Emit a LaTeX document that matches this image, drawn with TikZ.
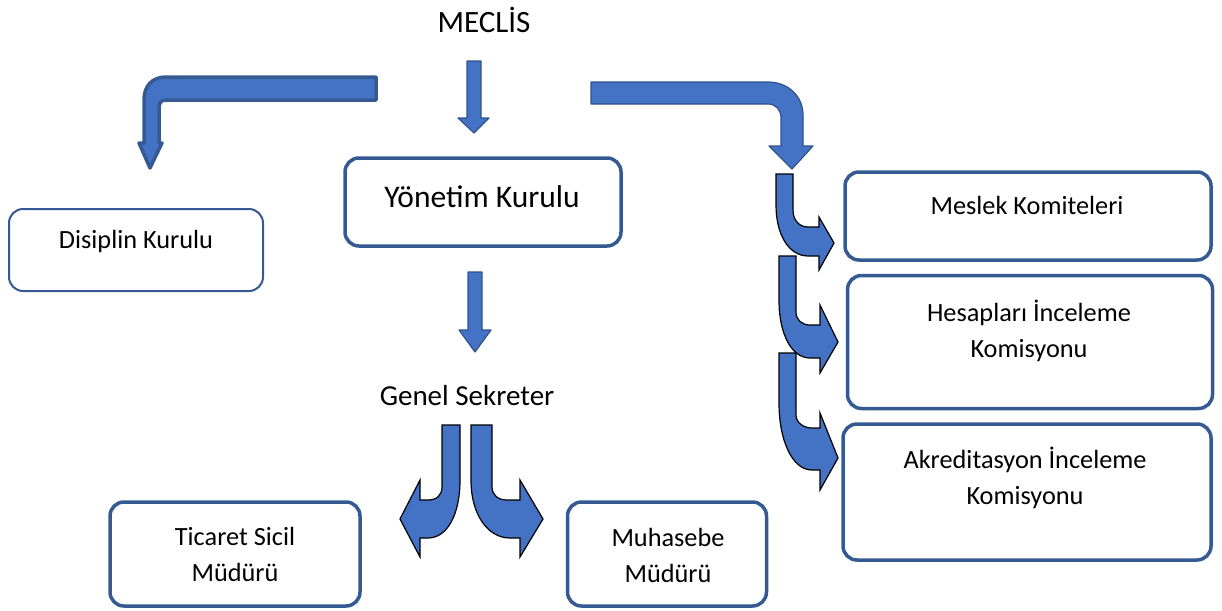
\documentclass[tikz,border=0pt]{standalone}
\usepackage{fontspec}
\setmainfont{Carlito}
\usepackage{tikz}
\definecolor{kutuc}{HTML}{355A93}
\definecolor{okdolgu}{HTML}{4472C4}
\definecolor{okkenar}{HTML}{2F528F}
\begin{document}
\begin{tikzpicture}[x=1pt,y=-1pt]
\tikzstyle{kutu}=[draw=kutuc, line width=3.5pt, rounded corners=14pt, fill=white, inner sep=0pt]
\tikzstyle{yazi}=[align=center, inner sep=0pt, font=\fontsize{26.3}{36}\selectfont]
\tikzstyle{blokok}=[fill=okdolgu, draw=okkenar, line width=1.2pt, line join=round]
\tikzstyle{egriok}=[fill=okdolgu, draw=black, line width=1.2pt, line join=miter]
\useasboundingbox (0,0) rectangle (1222,610);

% kutular
\node[kutu, minimum width=276pt, minimum height=88pt] (yonetim) at (483,202) {};
\node[kutu, line width=2pt, minimum width=254pt, minimum height=82pt] (disiplin) at (136,250) {};
\node[kutu, minimum width=366pt, minimum height=88pt] (meslek) at (1028,216) {};
\node[kutu, minimum width=365pt, minimum height=133pt] (hesap) at (1030,342) {};
\node[kutu, minimum width=368pt, minimum height=136pt] (akredit) at (1027,492) {};
\node[kutu, minimum width=250pt, minimum height=104pt] (ticaret) at (235,554) {};
\node[kutu, minimum width=199pt, minimum height=104pt] (muhasebe) at (667,554) {};

% yazilar
\node[yazi, font=\fontsize{31}{36}\selectfont] (meclis) at (484,20) {MECLİS};
\node[yazi, font=\fontsize{31.5}{36}\selectfont] (yonetimy) at (482,197) {Yönetim Kurulu};
\node[yazi] (disipliny) at (136,241) {Disiplin Kurulu};
\node[yazi, font=\fontsize{29}{34}\selectfont] (genelsek) at (467,396) {Genel Sekreter};
\node[yazi] (mesleky) at (1027,205) {Meslek Komiteleri};
\node[yazi] (hesapy) at (1029,331) {Hesapları İnceleme\\Komisyonu};
\node[yazi] (akredity) at (1025,478) {Akreditasyon İnceleme\\Komisyonu};
\node[yazi] (ticarety) at (235,554) {Ticaret Sicil\\Müdürü};
\node[yazi] (muhasebey) at (668,555) {Muhasebe\\Müdürü};

% duz oklar
\draw[blokok] (467,61) -- (481,61) -- (481,118) -- (489,118) -- (474,133) -- (458,118) -- (467,118) -- cycle;
\draw[blokok] (468,272) -- (482,272) -- (482,330) -- (491,330) -- (475,352) -- (459,330) -- (468,330) -- cycle;

% kirik oklar
\draw[blokok, draw=kutuc, line width=3.5pt] (376,77) -- (376,100) -- (166,100)
  .. controls (161,100) and (159,103) .. (159,108) -- (159,143) -- (162,143) -- (150,168)
  -- (139,143) -- (144,143) -- (144,100) .. controls (144,86) and (152,77) .. (166,77) -- cycle;
\draw[blokok] (591,82) -- (768,82) .. controls (788,82) and (803,96) .. (803,115)
  -- (803,146) -- (813,146) -- (792,169) -- (769,146) -- (781,146) -- (781,118)
  .. controls (781,110) and (776,104) .. (768,104) -- (591,104) -- cycle;

% egri oklar (sag)
\draw[egriok] (776,174) -- (793,174) -- (793,210) .. controls (793,220) and (799,227) .. (808,227)
  -- (819,227) -- (819,217) -- (834,243) -- (819,270) -- (819,256) -- (808,256)
  .. controls (789,256) and (776,235) .. (776,205) -- cycle;
\draw[egriok] (779,256) -- (796,256) -- (796,312) .. controls (796,320) and (802,325) .. (810,325)
  -- (820,325) -- (820,305) -- (838,342) -- (820,373) -- (820,358) -- (810,358)
  .. controls (792,358) and (779,335) .. (779,300) -- cycle;
\draw[egriok] (779,353) -- (796,353) -- (796,415) .. controls (796,423) and (804,428) .. (812,428)
  -- (820,428) -- (820,413) -- (838,458) -- (820,490) -- (820,470) -- (812,470)
  .. controls (792,470) and (779,440) .. (779,403) -- cycle;

% egri oklar (alt)
\draw[egriok] (442,425) -- (460,425) -- (460,480) .. controls (460,515) and (447,538) .. (428,538)
  -- (420,538) -- (420,557) -- (400,519) -- (420,480) -- (420,500) -- (428,500)
  .. controls (437,500) and (442,495) .. (442,487) -- cycle;
\draw[egriok] (471,425) -- (492,425) -- (492,487) .. controls (492,495) and (498,500) .. (507,500)
  -- (520,500) -- (520,480) -- (543,519) -- (520,557) -- (520,538) -- (510,538)
  .. controls (488,538) and (471,515) .. (471,480) -- cycle;
\end{tikzpicture}
\end{document}
